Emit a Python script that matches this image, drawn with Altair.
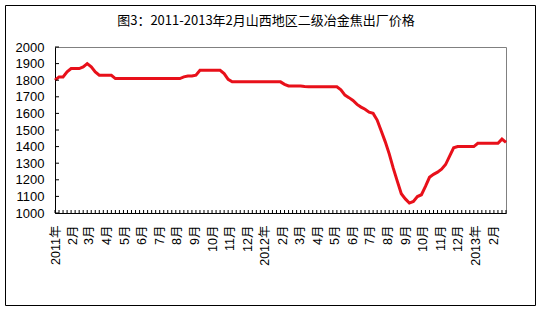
import altair as alt
import pandas as pd
import datetime as dt

title_text = "图3：2011-2013年2月山西地区二级冶金焦出厂价格"

# weekly prices, first week of 2011 to late Feb 2013
prices = [
    1800, 1820, 1820, 1850, 1870, 1870, 1870, 1880, 1900, 1880,
    1850, 1830, 1830, 1830, 1830, 1810,
    1810, 1810, 1810, 1810, 1810, 1810, 1810, 1810,
    1810, 1810, 1810, 1810, 1810, 1810, 1810, 1810,
    1820, 1825, 1825, 1830,
    1860, 1860, 1860, 1860, 1860, 1860,
    1840, 1805, 1790,
    1790, 1790, 1790, 1790, 1790, 1790, 1790, 1790, 1790, 1790, 1790, 1790,
    1775, 1765, 1765, 1765, 1765, 1762, 1760,
    1760, 1760, 1760, 1760, 1760, 1760, 1760,
    1742, 1710, 1695, 1678, 1654, 1638, 1625, 1607, 1600, 1560,
    1495, 1430, 1356, 1270, 1192, 1116, 1085, 1060, 1070, 1099,
    1110, 1160, 1215, 1233, 1246, 1264, 1292, 1343, 1393,
    1400, 1400, 1400, 1400, 1400,
    1420, 1420, 1420, 1420, 1420, 1420,
    1445, 1425,
]

start = dt.date(2011, 1, 1)
dates = [(start + dt.timedelta(days=7 * i)).isoformat() for i in range(len(prices))]

# month-start tick positions (labels built by labelExpr)
month_starts = []
for y in (2011, 2012, 2013):
    for m in range(1, 13):
        if y == 2013 and m > 2:
            break
        month_starts.append(int(dt.datetime(y, m, 1, tzinfo=dt.timezone.utc).timestamp() * 1000))

y_ticks = [1000, 1100, 1200, 1300, 1400, 1500, 1600, 1700, 1800, 1900, 2000]

W, H = 451, 166
font_lat = "Liberation Sans"
font_cjk = "Noto Sans CJK SC"

df = pd.DataFrame({"date": dates, "price": prices})
dfy = pd.DataFrame({"price": y_ticks})

x_scale = alt.Scale(type="utc",
                    domain=[alt.DateTime(year=2011, month=1, date=1, utc=True),
                            alt.DateTime(year=2013, month=2, date=23, utc=True)])
y_scale = alt.Scale(domain=[1000, 2000], nice=False, zero=False)

x_enc = alt.X(
    "date:T",
    scale=x_scale,
    axis=alt.Axis(
        values=month_starts,
        labelExpr="utcmonth(datum.value)==0 ? utcyear(datum.value)+'年' : (utcmonth(datum.value)+1)+'月'",
        labelAngle=270, labelAlign="right", labelBaseline="middle",
        labelPadding=12, ticks=False, tickSize=0, grid=False,
        domainColor="black", labelColor="black",
        labelFont=font_lat + ", " + font_cjk, labelFontSize=12.5,
        labelOverlap=False, labelFlush=False, labelBound=False, title=None,
    ),
)

y_enc = alt.Y(
    "price:Q",
    scale=y_scale,
    axis=alt.Axis(
        values=y_ticks, format="d", ticks=False, tickSize=0, grid=False,
        labelPadding=11, domainColor="black", labelColor="black",
        labelFont=font_lat, labelFontSize=13, labelOverlap=False,
        labelFlush=False, title=None,
    ),
)

line = alt.Chart(df).mark_line(color="#e8101a", strokeWidth=3).encode(x=x_enc, y=y_enc)

xticks = alt.Chart(df).mark_rule(color="black", strokeWidth=1).encode(
    x=x_enc, y=alt.value(H - 3), y2=alt.value(H)
)

yticks = alt.Chart(dfy).mark_rule(color="black", strokeWidth=1).encode(
    y=y_enc, x=alt.value(0), x2=alt.value(4)
)

frame = alt.Chart(alt.Data(values=[{"a": 1}])).mark_rect(
    fill="white", fillOpacity=0, stroke="black", strokeWidth=1
).encode(
    x=alt.value(-49.5), x2=alt.value(480.5), y=alt.value(-41.5), y2=alt.value(258.5)
)

title = alt.Chart(alt.Data(values=[{"t": title_text}])).mark_text(
    font=font_cjk, fontSize=13, color="black", align="center", baseline="middle"
).encode(
    text="t:N", x=alt.value(211), y=alt.value(-26)
)

chart = alt.layer(line, xticks, yticks, frame, title).properties(
    width=W, height=H,
    padding={"left": 55, "top": 47, "right": 32, "bottom": 96},
    autosize=alt.AutoSizeParams(type="none"),
).configure(background="white").configure_view(
    stroke="#808080", strokeWidth=1
)

chart.save("out.html", embed_options={"renderer": "svg", "actions": False})
